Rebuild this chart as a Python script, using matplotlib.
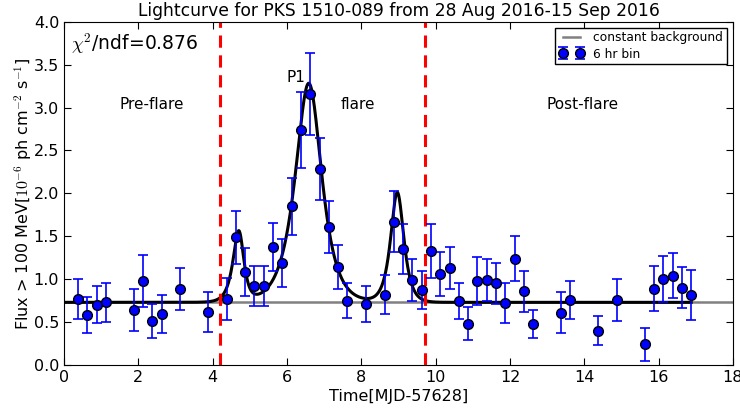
#lightcurve of PKS 1510-089, 6 hr bins, with flare fit
import numpy as np
import matplotlib
matplotlib.use('Agg')
import matplotlib.pyplot as plt

# bin centres (days since MJD 57628)
t = [0.375, 0.625, 0.875, 1.125, 1.875, 2.125, 2.375, 2.625, 3.125, 3.875,
     4.375, 4.625, 4.875, 5.125, 5.375, 5.625, 5.875, 6.125, 6.375, 6.625,
     6.875, 7.125, 7.375, 7.625, 8.125, 8.625, 8.875, 9.125, 9.375, 9.625,
     9.875, 10.125, 10.375, 10.625, 10.875, 11.125, 11.375, 11.625, 11.875, 12.125,
     12.375, 12.625, 13.375, 13.625, 14.375, 14.875, 15.625, 15.875, 16.125, 16.375,
     16.625, 16.875]
flux = [0.77, 0.58, 0.70, 0.73, 0.64, 0.98, 0.51, 0.59, 0.89, 0.62,
        0.77, 1.49, 1.08, 0.92, 0.92, 1.37, 1.19, 1.85, 2.74, 3.16,
        2.28, 1.61, 1.14, 0.75, 0.71, 0.82, 1.67, 1.35, 0.99, 0.87,
        1.33, 1.06, 1.13, 0.75, 0.48, 0.98, 0.99, 0.95, 0.72, 1.24,
        0.86, 0.48, 0.61, 0.76, 0.40, 0.76, 0.24, 0.89, 1.00, 1.04,
        0.90, 0.82]
err = [0.23, 0.21, 0.215, 0.23, 0.245, 0.30, 0.195, 0.22, 0.245, 0.23,
       0.245, 0.31, 0.28, 0.235, 0.235, 0.28, 0.28, 0.33, 0.44, 0.475,
       0.36, 0.305, 0.255, 0.20, 0.21, 0.225, 0.355, 0.295, 0.25, 0.22,
       0.315, 0.26, 0.25, 0.21, 0.19, 0.28, 0.24, 0.235, 0.23, 0.265,
       0.24, 0.165, 0.235, 0.22, 0.17, 0.245, 0.19, 0.265, 0.265, 0.265,
       0.24, 0.29]

# constant background and fitted flare parameters
bkg = 0.73
flare_t0 = [4.72, 6.60, 8.97]
flare_amp = [0.81, 2.55, 1.28]
flare_tr = [0.15, 0.33, 0.16]
flare_td = [0.11, 0.30, 0.155]

# flare period boundaries
t_start = 4.20
t_end = 9.70

plt.rcParams['font.family'] = 'DejaVu Sans'
plt.rcParams['mathtext.fontset'] = 'cm'

fig = plt.figure(figsize=(7.4, 4.09), dpi=100)
ax = fig.add_axes([0.0865, 0.1076, 0.904, 0.8394])

ax.axhline(bkg, color='0.5', lw=1.8, label='constant background', zorder=1)

tt = np.linspace(0.0, t[-1], 2000)
model = np.full_like(tt, bkg)
for t0, a, tr, td in zip(flare_t0, flare_amp, flare_tr, flare_td):
    model += 2 * a / (np.exp((t0 - tt) / tr) + np.exp((tt - t0) / td))
ax.plot(tt, model, color='k', lw=2.2, zorder=2)

ax.errorbar(t, flux, yerr=err, fmt='o', color='b', ecolor='b', mfc='b', mec='k',
            ms=7, elinewidth=1.2, capsize=3.5, capthick=1.2, label='6 hr bin', zorder=3)

ax.axvline(t_start, color='r', ls='--', lw=2.2, dashes=(4, 2.5), zorder=2.5)
ax.axvline(t_end, color='r', ls='--', lw=2.2, dashes=(4, 2.5), zorder=2.5)

ax.text(0.2, 3.75, r'$\chi^2$/ndf=0.876', fontsize=13.5, va='center')
ax.text(2.37, 3.03, 'Pre-flare', fontsize=11, ha='center', va='center')
ax.text(6.24, 3.35, 'P1', fontsize=11, ha='center', va='center')
ax.text(7.9, 3.03, 'flare', fontsize=11, ha='center', va='center')
ax.text(13.94, 3.03, 'Post-flare', fontsize=11, ha='center', va='center')

ax.set_xlim(0, 18)
ax.set_ylim(0, 4.0)
ax.set_xticks(np.arange(0, 19, 2))
ax.set_yticks(np.arange(0, 4.01, 0.5))
ax.tick_params(direction='in', top=True, right=True, length=5, labelsize=11.5)
ax.set_xlabel('Time[MJD-57628]', fontsize=11.5, labelpad=3)
ax.set_ylabel(r'Flux > 100 MeV[$10^{-6}$ ph cm$^{-2}$ s$^{-1}$]', fontsize=11.5, labelpad=0)
ax.set_title('Lightcurve for PKS 1510-089 from 28 Aug 2016-15 Sep 2016', fontsize=12.3, pad=4)

ax.legend(loc='upper right', numpoints=2, fontsize=8.8, fancybox=False,
          edgecolor='k', framealpha=1, borderaxespad=0.5, borderpad=0.3,
          labelspacing=0.25)

fig.savefig('out.png', dpi=100)
